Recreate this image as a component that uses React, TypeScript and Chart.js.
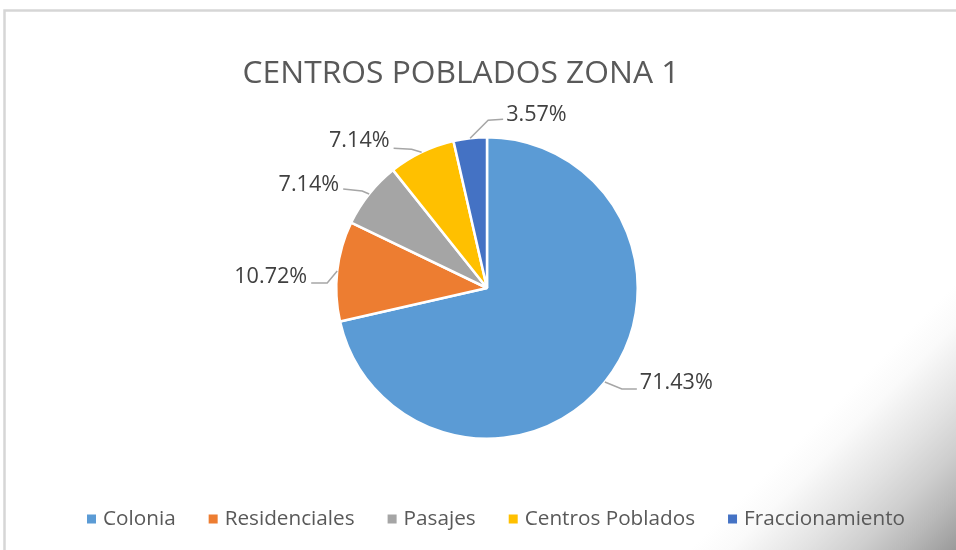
import React, { useEffect, useRef } from "react";
import { Chart, registerables } from "chart.js";

Chart.register(...registerables);

const TITLE = "CENTROS POBLADOS ZONA 1";
const categories = ["Colonia", "Residenciales", "Pasajes", "Centros Poblados", "Fraccionamiento"];
const values = [71.43, 10.72, 7.14, 7.14, 3.57];
const valueLabels = ["71.43%", "10.72%", "7.14%", "7.14%", "3.57%"];
const colors = ["#5B9BD5", "#ED7D31", "#A5A5A5", "#FFC000", "#4472C4"];

const W = 956;
const H = 550;
const FONT = "'Open Sans', 'Noto Sans', sans-serif";

// leader-line layout per slice (offsets from the slice's outer mid point)
const LEADERS = [
  { elbow: [17, 7], end: [32, 7], side: "right", textDy: -6 },
  { elbow: [-10, 12], end: [-26, 12], side: "left", textDy: -6 },
  { elbow: [-7, -3], end: [-26, -5], side: "left", textDy: -4 },
  { elbow: [-10, -3], end: [-28, -4], side: "left", textDy: -7 },
  { elbow: [18, -18], end: [33, -19], side: "right", textDy: -4 },
];

function fitSize(ctx: CanvasRenderingContext2D, text: string, target: number) {
  ctx.font = `100px ${FONT}`;
  const w = ctx.measureText(text).width;
  return (100 * target) / w;
}

const decorPlugin = {
  id: "decor",
  beforeDraw(chart: any) {
    const ctx: CanvasRenderingContext2D = chart.ctx;
    ctx.save();
    ctx.fillStyle = "#ffffff";
    ctx.fillRect(0, 0, W, H);
    const g = ctx.createLinearGradient(620, 620, 753, 753);
    g.addColorStop(0, "#ffffff");
    g.addColorStop(0.15, "#fafafa");
    g.addColorStop(0.42, "#e3e3e3");
    g.addColorStop(0.62, "#cfcfcf");
    g.addColorStop(0.8, "#b8b8b8");
    g.addColorStop(1, "#9a9a9a");
    ctx.fillStyle = g;
    ctx.fillRect(0, 0, W, H);
    ctx.strokeStyle = "#d6d6d6";
    ctx.lineWidth = 2.5;
    ctx.beginPath();
    ctx.moveTo(4.5, H);
    ctx.lineTo(4.5, 10.5);
    ctx.lineTo(W, 10.5);
    ctx.stroke();
    ctx.restore();
  },
  afterDraw(chart: any) {
    const ctx: CanvasRenderingContext2D = chart.ctx;
    ctx.save();
    // title
    const tSize = fitSize(ctx, TITLE, 437);
    ctx.font = `${tSize}px ${FONT}`;
    ctx.fillStyle = "#595959";
    ctx.textAlign = "center";
    ctx.textBaseline = "middle";
    ctx.fillText(TITLE, 461, 74);

    // data labels with leader lines
    const meta = chart.getDatasetMeta(0);
    const lSize = fitSize(ctx, "71.43%", 73);
    meta.data.forEach((arc: any, i: number) => {
      const p = arc.getProps(["x", "y", "startAngle", "endAngle", "outerRadius"], true);
      const mid = (p.startAngle + p.endAngle) / 2;
      const ax = p.x + Math.cos(mid) * p.outerRadius;
      const ay = p.y + Math.sin(mid) * p.outerRadius;
      const L = LEADERS[i];
      ctx.strokeStyle = "#a6a6a6";
      ctx.lineWidth = 1.5;
      ctx.beginPath();
      ctx.moveTo(ax, ay);
      ctx.lineTo(ax + L.elbow[0], ay + L.elbow[1]);
      ctx.lineTo(ax + L.end[0], ay + L.end[1]);
      ctx.stroke();
      ctx.font = `${lSize}px ${FONT}`;
      ctx.fillStyle = "#404040";
      ctx.textBaseline = "middle";
      if (L.side === "right") {
        ctx.textAlign = "left";
        ctx.fillText(valueLabels[i], ax + L.end[0] + 3, ay + L.end[1] + L.textDy);
      } else {
        ctx.textAlign = "right";
        ctx.fillText(valueLabels[i], ax + L.end[0] - 4, ay + L.end[1] + L.textDy);
      }
    });

    // legend
    const gSize = fitSize(ctx, "Residenciales", 130);
    ctx.font = `${gSize}px ${FONT}`;
    let x = 87;
    const cy = 519;
    categories.forEach((c, i) => {
      ctx.fillStyle = colors[i];
      ctx.fillRect(x, cy - 4.5, 9, 9);
      ctx.fillStyle = "#595959";
      ctx.textAlign = "left";
      ctx.textBaseline = "middle";
      ctx.fillText(c, x + 16, cy);
      x += 16 + ctx.measureText(c).width + 33;
    });
    ctx.restore();
  },
};

export default function App() {
  const ref = useRef<HTMLCanvasElement>(null);
  useEffect(() => {
    if (!ref.current) return;
    const chart = new Chart(ref.current, {
      type: "pie",
      data: {
        labels: categories,
        datasets: [
          {
            data: values,
            backgroundColor: colors,
            borderColor: "#ffffff",
            borderWidth: 2.5,
          },
        ],
      },
      options: {
        animation: false,
        responsive: false,
        devicePixelRatio: 1,
        layout: { padding: { left: 335, right: 317, top: 136, bottom: 110 } },
        plugins: {
          legend: { display: false },
          title: { display: false },
          tooltip: { enabled: false },
        },
      },
      plugins: [decorPlugin],
    });
    return () => chart.destroy();
  }, []);
  return (
    <div style={{ position: "absolute", left: 0, top: 0, width: W, height: H }}>
      <canvas ref={ref} width={W} height={H} style={{ width: W, height: H, display: "block" }} />
    </div>
  );
}
